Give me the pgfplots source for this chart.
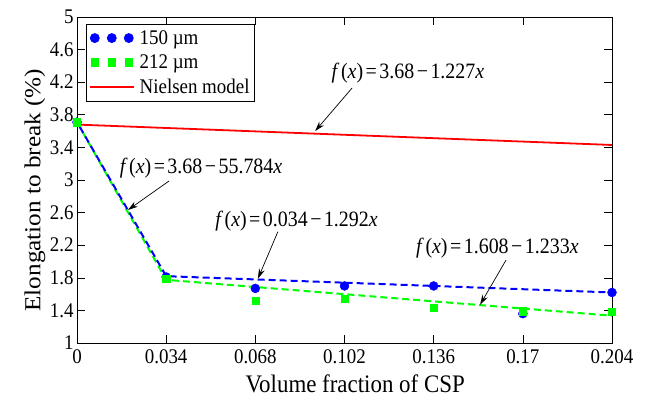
\documentclass[border=0pt]{standalone}
\usepackage{pgfplots}
\pgfplotsset{compat=1.18}
\usepackage{graphicx}
\usepackage{fontspec}
\setmainfont{Liberation Serif}
\usetikzlibrary{arrows.meta}

% text is set slightly taller than wide, as in the exported figure
\newcommand\vs[1]{\scalebox{1}[1.1]{#1}}
% fitted-line formula, f(x) = a - b x
\newcommand\fx[2]{\vs{\textit{f}\kern1.5bp(\textit{x})\kern2.5bp=\kern2.5bp#1\kern2.5bp−\kern2.5bp#2\textit{x}}}

% measured data: elongation to break vs. CSP volume fraction
\pgfplotstableread{
x      y
0      3.71
0.034  1.81
0.068  1.67
0.102  1.70
0.136  1.70
0.170  1.36
0.204  1.62
}\dataA
\pgfplotstableread{
x      y
0      3.71
0.034  1.785
0.068  1.52
0.102  1.54
0.136  1.43
0.170  1.39
0.204  1.38
}\dataB

\definecolor{mblue}{RGB}{0,0,255}
\definecolor{mgreen}{RGB}{0,255,0}
\definecolor{mred}{RGB}{255,0,0}

% legend pictures: three markers in a row, and a plain line
\pgfplotsset{
  threemarks/.style={legend image code/.code={\draw[##1] plot coordinates {(5bp,0) (22bp,0) (39bp,0)};}},
  longline/.style={legend image code/.code={\draw[##1] (0bp,0) -- (44bp,0);}},
}

\begin{document}
\begin{tikzpicture}
\begin{axis}[
  at={(0,0)}, anchor=south west,
  scale only axis, width=535bp, height=326bp,
  xmin=0, xmax=0.204, ymin=1, ymax=5,
  xtick={0,0.034,0.068,0.102,0.136,0.17,0.204},
  xticklabels={\vs{0},\vs{0.034},\vs{0.068},\vs{0.102},\vs{0.136},\vs{0.17},\vs{0.204}},
  ytick={1,1.4,1.8,2.2,2.6,3,3.4,3.8,4.2,4.6,5},
  yticklabels={\vs{1},\vs{1.4},\vs{1.8},\vs{2.2},\vs{2.6},\vs{3},\vs{3.4},\vs{3.8},\vs{4.2},\vs{4.6},\vs{5}},
  tick align=inside, tick pos=both,
  major tick length=8bp,
  every tick/.style={black, line width=0.6bp},
  axis line style={black, line width=0.8bp},
  tick label style={font=\fontsize{19}{22}\selectfont},
  xticklabel style={yshift=-3bp},
  label style={font=\fontsize{23}{26}\selectfont},
  xlabel={\vs{Volume fraction of CSP}},
  ylabel={\scalebox{1.1}[1]{Elongation to break (\%)}},
  xlabel style={at={(axis description cs:0.52,-0.153)}, anchor=base},
  ylabel style={at={(axis description cs:-0.0785,0.469)}, anchor=center},
  legend cell align=left,
  legend style={at={(rel axis cs:0.0168,0.9785)}, anchor=north west,
    draw=black, line width=0.8bp, font=\fontsize{19}{22}\selectfont,
    inner xsep=2.5bp, inner ysep=4bp, row sep=5bp, column sep=3bp},
]
% measured points
\addplot[only marks, mark=*, mark size=4.5bp, color=mblue, threemarks]
  table {\dataA};
\addlegendentry{\vs{150 µm}}
\addplot[only marks, mark=square*, mark size=3.6bp, color=mgreen, threemarks]
  table {\dataB};
\addlegendentry{\vs{212 µm}}
% piecewise linear fits
\addplot[forget plot, mgreen, line width=2bp, dash pattern=on 7bp off 4bp]
  coordinates {(0,3.71) (0.034,1.775) (0.204,1.335)};
\addplot[forget plot, mblue, line width=2bp, dash pattern=on 7bp off 4bp, dash phase=5.5bp]
  coordinates {(0,3.71) (0.034,1.82) (0.204,1.62)};
% Nielsen model
\addplot[mred, line width=1.8bp, longline]
  coordinates {(0,3.68) (0.204,3.4297)};
\addlegendentry{\vs{Nielsen model}}

% annotations
\tikzset{ann/.style={font=\fontsize{20}{24}\selectfont, inner sep=0pt},
         arr/.style={-{Stealth[length=10bp,width=6bp]}, line width=0.7bp, black}}
\node[ann] at (axis cs:0.1262,4.31) {\fx{3.68}{1.227}};
\draw[arr] (axis cs:0.1049,4.129) -- (axis cs:0.0908,3.60);
\node[ann] at (axis cs:0.0473,3.147) {\fx{3.68}{55.784}};
\draw[arr] (axis cs:0.0351,2.988) -- (axis cs:0.01945,2.632);
\node[ann] at (axis cs:0.0837,2.50) {\fx{0.034}{1.292}};
\draw[arr] (axis cs:0.0766,2.366) -- (axis cs:0.069,1.79);
\node[ann] at (axis cs:0.1603,2.166) {\fx{1.608}{1.233}};
\draw[arr] (axis cs:0.1636,2.018) -- (axis cs:0.1537,1.47);
\end{axis}
\pgfresetboundingbox
\path (-77bp,-57bp) rectangle (574bp,343bp);
\end{tikzpicture}
\end{document}
